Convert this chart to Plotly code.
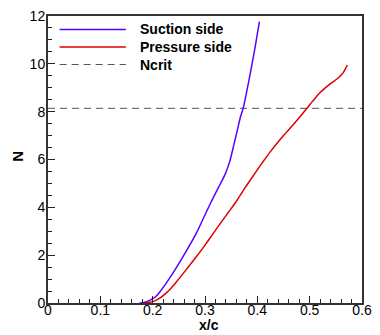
import plotly.graph_objects as go

# ---- data ----
suction_x = [0.175, 0.185, 0.195, 0.205, 0.215, 0.225, 0.235, 0.25, 0.265, 0.283, 0.296,
             0.311, 0.325, 0.339, 0.347, 0.355, 0.362, 0.368, 0.373, 0.378, 0.383, 0.389,
             0.395, 0.400, 0.404]
suction_N = [0.0, 0.03, 0.12, 0.25, 0.5, 0.8, 1.12, 1.65, 2.2, 2.9, 3.5,
             4.19, 4.8, 5.41, 5.9, 6.6, 7.25, 7.8, 8.15, 8.65, 9.2, 9.89,
             10.6, 11.25, 11.76]

pressure_x = [0.185, 0.195, 0.205, 0.215, 0.225, 0.235, 0.246, 0.26, 0.27, 0.283, 0.30,
              0.314, 0.33, 0.345, 0.358, 0.376, 0.395, 0.41, 0.425, 0.44, 0.451, 0.462,
              0.475, 0.485, 0.494, 0.505, 0.52, 0.538, 0.548, 0.557, 0.563, 0.568, 0.572]
pressure_N = [0.0, 0.03, 0.1, 0.22, 0.4, 0.62, 0.9, 1.28, 1.56, 1.92, 2.42,
              2.85, 3.35, 3.8, 4.19, 4.8, 5.41, 5.88, 6.33, 6.74, 7.02, 7.3,
              7.62, 7.88, 8.12, 8.42, 8.8, 9.14, 9.3, 9.46, 9.6, 9.78, 9.95]

ncrit_x = [0.0, 0.6]
ncrit_N = [8.14, 8.14]

series_names = ["Suction side", "Pressure side", "Ncrit"]
x_ticks = [0, 0.1, 0.2, 0.3, 0.4, 0.5, 0.6]
y_ticks = [0, 2, 4, 6, 8, 10, 12]

# ---- styles ----
BLUE = "#5a00ff"
RED = "#dd0000"
GRAY = "#555555"
DASH = "7px,5px"
FONT = "Liberation Sans, Arial, sans-serif"

fig = go.Figure()
fig.add_trace(go.Scatter(x=ncrit_x, y=ncrit_N, mode="lines",
                         line=dict(color=GRAY, width=1, dash=DASH), name=series_names[2]))
fig.add_trace(go.Scatter(x=suction_x, y=suction_N, mode="lines", line_shape="spline",
                         line=dict(color=BLUE, width=1.5), name=series_names[0]))
fig.add_trace(go.Scatter(x=pressure_x, y=pressure_N, mode="lines", line_shape="spline",
                         line=dict(color=RED, width=1.5), name=series_names[1]))

axis_common = dict(
    showgrid=False, zeroline=False, showline=True, linewidth=2, linecolor="#333333",
    mirror=True, ticks="inside", ticklen=7, tickwidth=1.2, tickcolor="#222222",
    tickfont=dict(family=FONT, size=14, color="black"),
)
fig.update_xaxes(range=[0, 0.6], tickvals=x_ticks, ticktext=[f"{v:g}" for v in x_ticks],
                 ticklabelstandoff=-7,
                 minor=dict(dtick=0.02, ticks="inside", ticklen=4, tickwidth=1, tickcolor="#222222"),
                 **axis_common)
fig.update_yaxes(range=[0, 12], tickvals=y_ticks, ticktext=[str(v) for v in y_ticks],
                 ticklabelstandoff=-2,
                 minor=dict(dtick=0.5, ticks="inside", ticklen=4, tickwidth=1, tickcolor="#222222"),
                 **axis_common)

# custom legend (long line samples like the reference)
legend_y = [0.953, 0.892, 0.831]
legend_styles = [dict(color=BLUE, width=1.5), dict(color=RED, width=1.5),
                 dict(color=GRAY, width=1, dash=DASH)]
for name, yy, st in zip(series_names, legend_y, legend_styles):
    fig.add_shape(type="line", xref="paper", yref="paper", x0=0.037, x1=0.248, y0=yy, y1=yy,
                  line=st)
    fig.add_annotation(text=f"<b>{name}</b>", xref="paper", yref="paper", x=0.286, y=yy,
                       xanchor="left", yanchor="middle", showarrow=False,
                       font=dict(family=FONT, size=14, color="black"))

# axis titles
fig.add_annotation(text="<b>x/c</b>", xref="paper", yref="paper", x=0.512, y=-0.076,
                   xanchor="center", yanchor="middle", showarrow=False, borderpad=0,
                   font=dict(family=FONT, size=14, color="black"))
fig.add_annotation(text="<b>N</b>", xref="paper", yref="paper", x=-0.098, y=0.51,
                   xanchor="center", yanchor="middle", showarrow=False, textangle=-90,
                   font=dict(family=FONT, size=15, color="black"))

fig.update_layout(
    width=380, height=335,
    margin=dict(l=48, r=10, t=8, b=32),
    plot_bgcolor="white", paper_bgcolor="white",
    showlegend=False,
    font=dict(family=FONT, size=14, color="black"),
)

fig.write_html("out.html",
               config=dict(displayModeBar=False),
               post_script="document.body.style.margin='0';document.body.style.padding='0';"
                           "document.documentElement.style.overflow='hidden';")
